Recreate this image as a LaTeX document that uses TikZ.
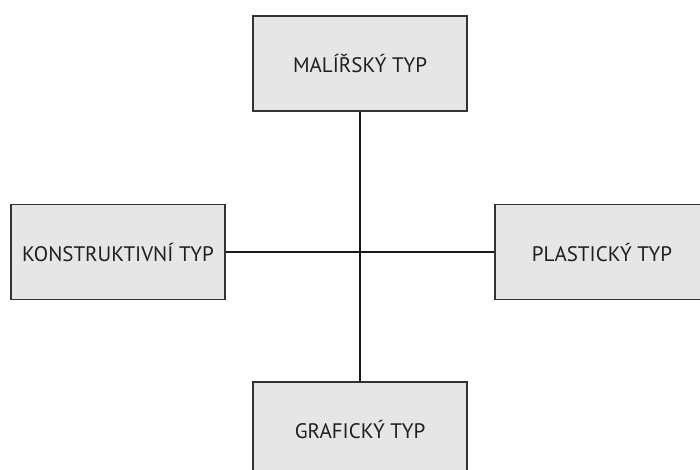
\documentclass[tikz,border=0pt]{standalone}
\usepackage{fontspec}
\setmainfont{PT Sans}
\usepackage{tikz}
\usetikzlibrary{positioning}
\definecolor{boxgray}{HTML}{E6E6E6}
\definecolor{edgegray}{HTML}{333333}

\begin{document}
\begin{tikzpicture}[x=1pt, y=-1pt,
    type box/.style={draw=edgegray, fill=boxgray, line width=1.5pt,
           minimum width=214pt, minimum height=95pt, inner sep=0pt,
           font=\fontsize{21}{23}\selectfont, text=black!88},
    link/.style={draw=black!90, line width=1.4pt}
    ]
\useasboundingbox (0,0) rectangle (700,470);
\node (Malirsky) [type box] at (360,63.5) {MALÍŘSKÝ TYP};
\node (Konstruktivni) [type box] at (118,252) {KONSTRUKTIVNÍ TYP};
\node (Plasticky) [type box] at (602,252) {PLASTICKÝ TYP};
\node (Graficky) [type box] at (360,429.5) {GRAFICKÝ TYP};
\draw[link] (Malirsky) -- (Graficky);
\draw[link] (Konstruktivni) -- (Plasticky);
\end{tikzpicture}
\end{document}
